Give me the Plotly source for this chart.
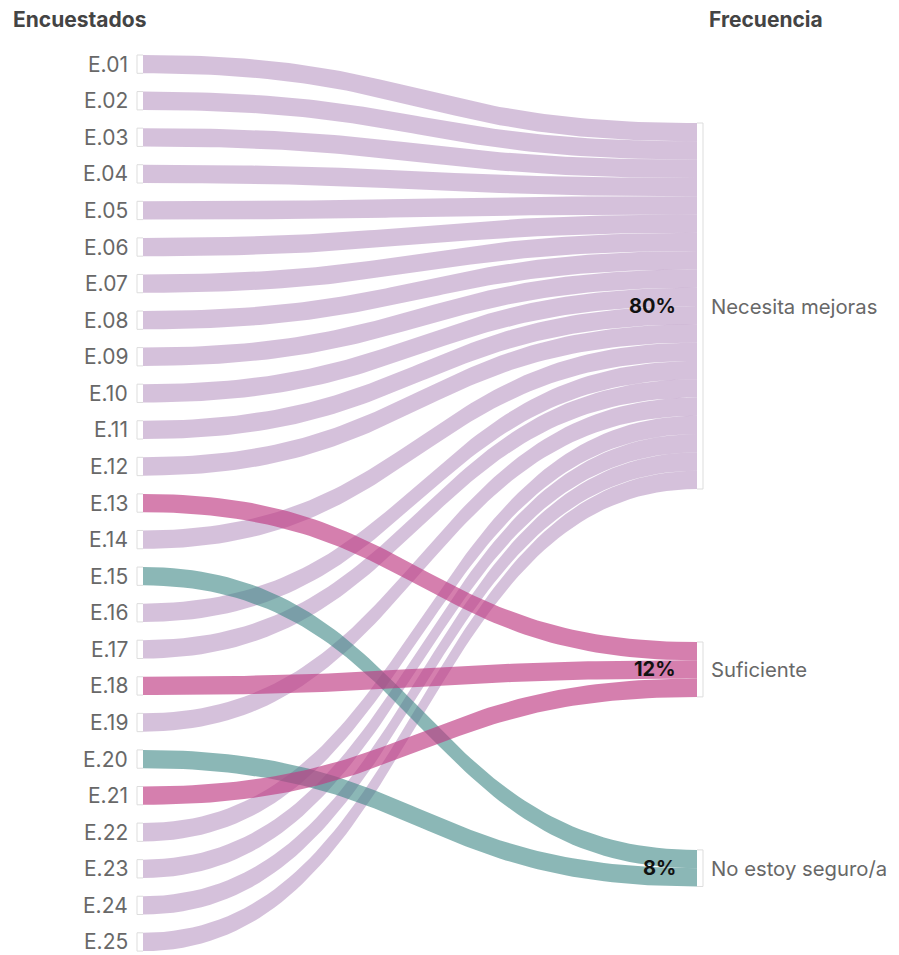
import numpy as np
import plotly.graph_objects as go

# ---------------- data ----------------
respondents = ["E.01", "E.02", "E.03", "E.04", "E.05", "E.06", "E.07", "E.08", "E.09",
               "E.10", "E.11", "E.12", "E.13", "E.14", "E.15", "E.16", "E.17", "E.18",
               "E.19", "E.20", "E.21", "E.22", "E.23", "E.24", "E.25"]
answers = ["Necesita mejoras", "Necesita mejoras", "Necesita mejoras", "Necesita mejoras",
           "Necesita mejoras", "Necesita mejoras", "Necesita mejoras", "Necesita mejoras",
           "Necesita mejoras", "Necesita mejoras", "Necesita mejoras", "Necesita mejoras",
           "Suficiente", "Necesita mejoras", "No estoy seguro/a", "Necesita mejoras",
           "Necesita mejoras", "Suficiente", "Necesita mejoras", "No estoy seguro/a",
           "Suficiente", "Necesita mejoras", "Necesita mejoras", "Necesita mejoras",
           "Necesita mejoras"]
categories = ["Necesita mejoras", "Suficiente", "No estoy seguro/a"]
percent_labels = ["80%", "12%", "8%"]
cat_colors = {
    "Necesita mejoras": "rgba(162,117,175,0.45)",
    "Suficiente": "rgba(192,60,132,0.66)",
    "No estoy seguro/a": "rgba(62,135,133,0.60)",
}

# ---------------- layout geometry (page pixels) ----------------
W, H = 899, 955
OFF = 8  # default page body margin
X_L, X_R = 143, 697
UNIT = 18.3
LEFT_TOP = 55.0
LEFT_STEP = 36.575
RIGHT_TOP = 123.0
RIGHT_GAP = 153.0

counts = [answers.count(c) for c in categories]
right_top = {}
y = RIGHT_TOP
for c, n in zip(categories, counts):
    right_top[c] = y
    y += n * UNIT + RIGHT_GAP

fig = go.Figure()

t = np.linspace(0, 1, 80)


def bez(y0, y1):
    xm = (X_L + X_R) / 2
    xs = (1 - t) ** 3 * X_L + 3 * (1 - t) ** 2 * t * xm + 3 * (1 - t) * t ** 2 * xm + t ** 3 * X_R
    ys = (1 - t) ** 3 * y0 + 3 * (1 - t) ** 2 * t * y0 + 3 * (1 - t) * t ** 2 * y1 + t ** 3 * y1
    return xs, ys


cursor = {c: right_top[c] for c in categories}
flows = []
for i, (r, a) in enumerate(zip(respondents, answers)):
    ly0 = LEFT_TOP + i * LEFT_STEP
    ry0 = cursor[a]
    cursor[a] += UNIT
    flows.append((r, a, ly0, ry0))

order = [f for f in flows if f[1] == categories[0]] + [f for f in flows if f[1] != categories[0]]
for r, a, ly0, ry0 in order:
    xt, yt = bez(ly0, ry0)
    xb, yb = bez(ly0 + UNIT, ry0 + UNIT)
    xs = np.concatenate([xt, xb[::-1], xt[:1]])
    ys = np.concatenate([yt, yb[::-1], yt[:1]])
    fig.add_trace(go.Scatter(x=xs, y=ys, mode="lines", fill="toself",
                             fillcolor=cat_colors[a], line=dict(width=0),
                             hoverinfo="text", text=f"{r} → {a}", showlegend=False))

# node brackets
bx, by = [], []
for i in range(len(respondents)):
    y0 = LEFT_TOP + i * LEFT_STEP
    y1 = y0 + UNIT
    bx += [X_L, X_L - 6, X_L - 6, X_L, None]
    by += [y0, y0, y1, y1, None]
for c, n in zip(categories, counts):
    y0 = right_top[c]
    y1 = y0 + n * UNIT
    bx += [X_R, X_R + 6, X_R + 6, X_R, None]
    by += [y0, y0, y1, y1, None]
fig.add_trace(go.Scatter(x=bx, y=by, mode="lines", line=dict(color="#dddddd", width=1),
                         hoverinfo="skip", showlegend=False))

ann = []
for i, r in enumerate(respondents):
    yc = LEFT_TOP + i * LEFT_STEP + UNIT / 2
    ann.append(dict(x=130, y=yc, text=r, xanchor="right", yanchor="middle", showarrow=False,
                    font=dict(family="Inter", size=21, color="#686868")))
for c, n, p in zip(categories, counts, percent_labels):
    yc = right_top[c] + n * UNIT / 2
    ann.append(dict(x=709, y=yc, text=c, xanchor="left", yanchor="middle", showarrow=False,
                    font=dict(family="Inter", size=20.3, color="#686868")))
    ann.append(dict(x=678, y=yc, text=f"<b>{p}</b>", xanchor="right", yanchor="middle",
                    showarrow=False, font=dict(family="Inter", size=20, color="#111111")))
ann.append(dict(x=11, y=19, text="<b>Encuestados</b>", xanchor="left", yanchor="middle",
                showarrow=False, font=dict(family="Inter", size=21, color="#444444")))
ann.append(dict(x=707, y=19, text="<b>Frecuencia</b>", xanchor="left", yanchor="middle",
                showarrow=False, font=dict(family="Inter", size=21, color="#444444")))

fig.update_layout(
    width=W - OFF, height=H - OFF,
    margin=dict(l=0, r=0, t=0, b=0),
    paper_bgcolor="white", plot_bgcolor="white",
    xaxis=dict(range=[OFF, W], visible=False, fixedrange=True),
    yaxis=dict(range=[H, OFF], visible=False, fixedrange=True),
    annotations=ann,
    showlegend=False,
)

fig.write_html("out.html")
